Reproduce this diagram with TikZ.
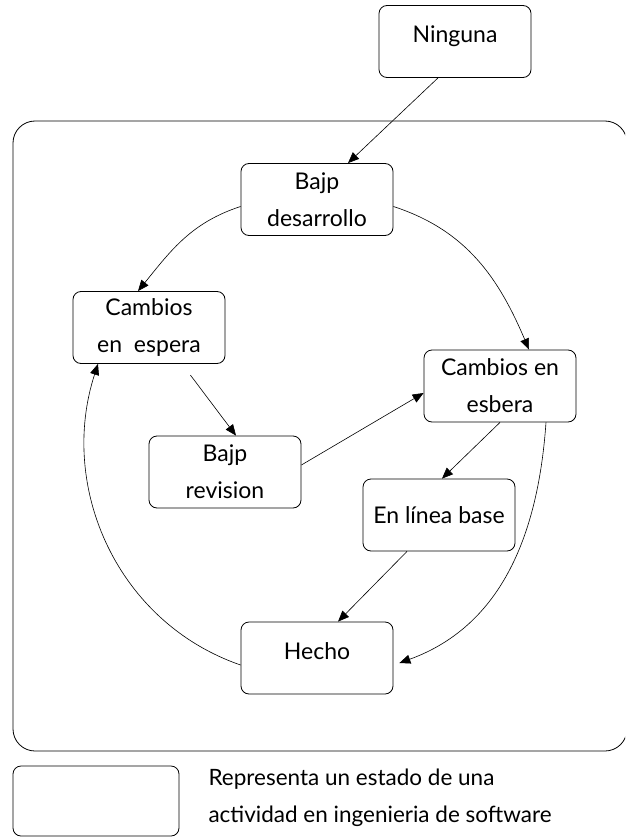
\documentclass[tikz,border=0pt]{standalone}
\usepackage{fontspec}
\setmainfont{Lato}
\usetikzlibrary{arrows.meta}

\begin{document}
\begin{tikzpicture}[x=1pt,y=-1pt,
	estado/.style={draw,rounded corners=8pt,line width=0.8pt,minimum width=152pt,minimum height=72pt,inner sep=2pt,align=center,font=\fontsize{23}{37}\selectfont},
	unalinea/.style={text depth=14pt},
	flecha/.style={-{Triangle[length=11pt,width=9pt]},line width=0.6pt}]
\useasboundingbox (0,0) rectangle (625,837);
\begin{scope}
	\clip (0,0) rectangle (625,837);
	\draw[line width=0.8pt,rounded corners=22pt] (13,121) rectangle (627,751);
\end{scope}
\node[estado,unalinea](ninguna) at (455,41.5){Ninguna};
\node[estado](bajpDes) at (317,199.5){Bajp\\desarrollo};
\node[estado](cambiosL) at (149,327.5){Cambios\\en\ \ espera};
\node[estado](cambiosR) at (500,386){Cambios en\\esbera};
\node[estado](bajpRev) at (225,472){Bajp\\revision};
\node[estado](enLinea) at (439,515){En línea base};
\node[estado,unalinea](hecho) at (317,658){Hecho};
\node[estado,minimum width=166pt,minimum height=70pt](leyenda) at (96,801){};
\node[anchor=west,align=left,font=\fontsize{22.5}{37}\selectfont](texto) at (205,798){Representa un estado de una\\actividad en ingenieria de software};
\draw[flecha] ([xshift=-17pt]ninguna.south) -- ([xshift=31pt]bajpDes.north);
\draw[flecha] ([yshift=-7pt]bajpDes.west) to[out=198,in=51] ([xshift=-11pt]cambiosL.north);
\draw[flecha] ([yshift=-7pt]bajpDes.east) to[out=342,in=113] ([xshift=29pt]cambiosR.north);
\draw[flecha] ([xshift=46pt]cambiosR.south) to[out=266,in=20] ([xshift=6pt,yshift=-5pt]hecho.east);
\draw[flecha] ([yshift=-7pt]hecho.west) to[out=161,in=252] ([xshift=-51pt]cambiosL.south);
\draw[flecha,shorten <=14pt] ([xshift=33pt]cambiosL.south) -- ([xshift=11pt]bajpRev.north);
\draw[flecha] ([yshift=7pt]bajpRev.east) -- ([yshift=-7pt]cambiosR.west);
\draw[flecha] (cambiosR.south) -- ([xshift=3pt]enLinea.north);
\draw[flecha] ([xshift=-32pt]enLinea.south) -- ([xshift=21pt]hecho.north);
\end{tikzpicture}
\end{document}
